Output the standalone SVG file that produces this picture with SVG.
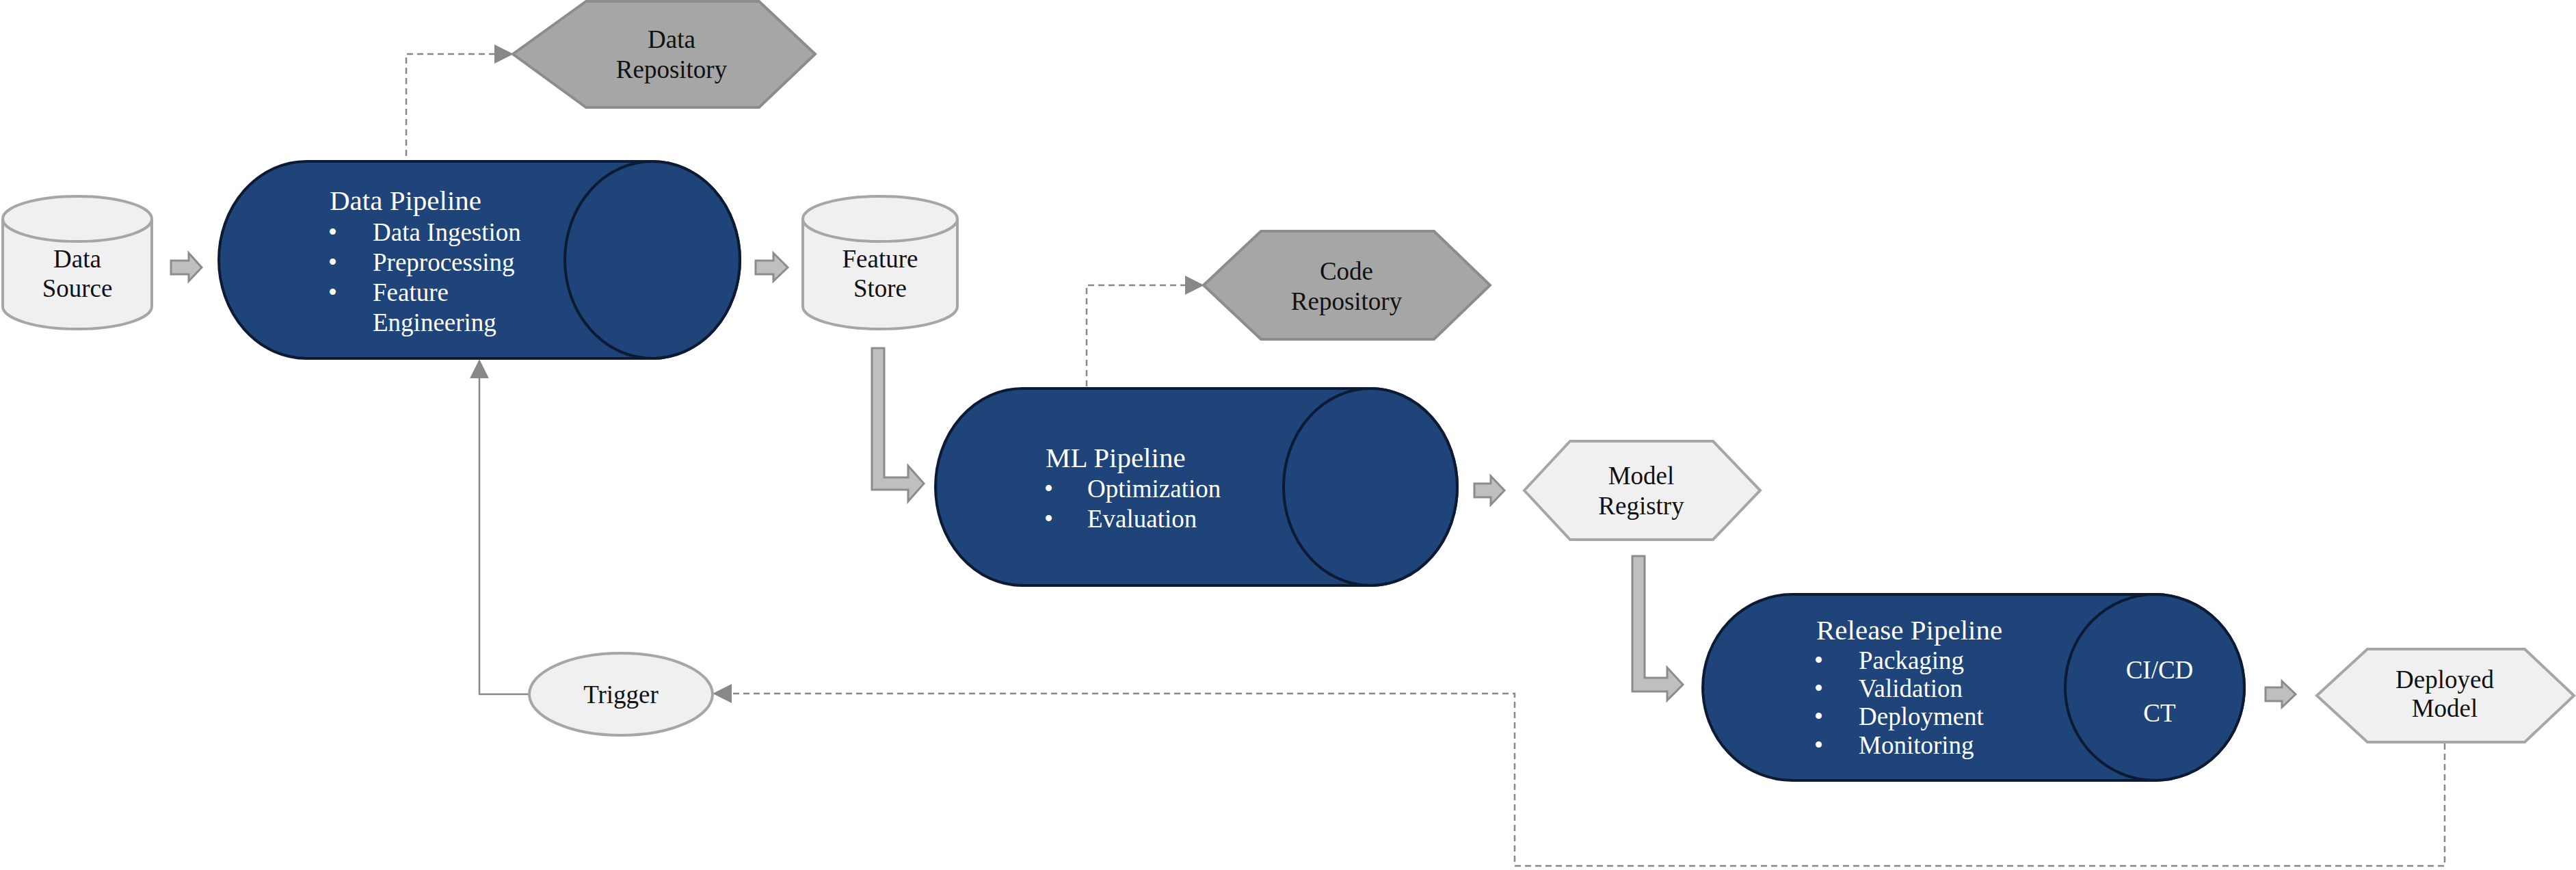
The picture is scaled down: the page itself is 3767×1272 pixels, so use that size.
<svg xmlns="http://www.w3.org/2000/svg" width="3767" height="1272" viewBox="0 0 3767 1272">
<style>
text{font-family:"Liberation Serif",serif;}
.pipe{fill:#1e4479;stroke:#0c1a33;stroke-width:4}
.wt{fill:#fff;font-size:37px}
.wh{fill:#fff;font-size:41px}
.bt{fill:#111;font-size:37px;text-anchor:middle}
.db{fill:#f0f0f0;stroke:#a6a6a6;stroke-width:4}
.hexd{fill:#a6a6a6;stroke:#8c8c8c;stroke-width:4}
.hexl{fill:#f0f0f0;stroke:#a6a6a6;stroke-width:4}
.ga{fill:#bfbfbf;stroke:#8c8c8c;stroke-width:3}
.dash{fill:none;stroke:#888;stroke-width:2.5;stroke-dasharray:9,6}
.solid{fill:none;stroke:#888;stroke-width:2.5}
</style>
<defs>
<marker id="ah" viewBox="0 0 10 10" refX="9" refY="5" markerWidth="10" markerHeight="10" markerUnits="userSpaceOnUse" orient="auto"><path d="M0,0L10,5L0,10z" fill="#888"/></marker>
<marker id="ah2" viewBox="0 0 10 10" refX="9" refY="5" markerWidth="28" markerHeight="28" markerUnits="userSpaceOnUse" orient="auto"><path d="M0,0L10,5L0,10z" fill="#888"/></marker>
</defs>

<g id="connectors">
<path class="dash" d="M594,228V79H748" marker-end="url(#ah2)"/>
<path class="dash" d="M1589,565V417H1758" marker-end="url(#ah2)"/>
<path class="dash" d="M3575,1087V1266H2215V1014H1045" marker-end="url(#ah2)"/>
<path class="solid" d="M774,1015H701V528" marker-end="url(#ah2)"/>
<path class="ga" d="M250,381H276V370L295,391L276,411V401H250Z"/>
<path class="ga" d="M1105,381H1131V370L1152,391L1131,411V401H1105Z"/>
<path class="ga" d="M2156,707H2180V696L2200,717L2180,738V727H2156Z"/>
<path class="ga" d="M3313,1005H3337V996L3357,1015L3337,1034V1025H3313Z"/>
<path class="ga" d="M1275,509H1293V698H1328V681L1351,707L1328,733V716H1275Z"/>
<path class="ga" d="M2387,813H2405V991H2438V976L2461,1001L2438,1024V1011H2387Z"/>
</g>

<g id="data-source">
<path class="db" d="M4,320V448A109,33 0 0 0 222,448V320"/>
<ellipse class="db" cx="113" cy="320" rx="109" ry="33"/>
<text class="bt" x="113" y="391">Data</text><text class="bt" x="113" y="434">Source</text>
</g>

<g id="data-pipeline">
<path class="pipe" d="M448,236H954A128,144 0 0 1 954,524H448A128,144 0 0 1 448,236Z"/>
<ellipse class="pipe" cx="954" cy="380" rx="128" ry="144"/>
<text class="wh" x="482" y="307">Data Pipeline</text>
<text class="wt" x="480" y="352">•</text><text class="wt" x="545" y="352">Data Ingestion</text>
<text class="wt" x="480" y="396">•</text><text class="wt" x="545" y="396">Preprocessing</text>
<text class="wt" x="480" y="440">•</text><text class="wt" x="545" y="440">Feature</text>
<text class="wt" x="545" y="484">Engineering</text>
</g>

<g id="data-repository">
<polygon class="hexd" points="750,79 857,2 1110,2 1192,79 1110,157 857,157"/>
<text class="bt" x="982" y="70">Data</text><text class="bt" x="982" y="114">Repository</text>
</g>

<g id="feature-store">
<path class="db" d="M1174,320V448A113,33 0 0 0 1400,448V320"/>
<ellipse class="db" cx="1287" cy="320" rx="113" ry="33"/>
<text class="bt" x="1287" y="391">Feature</text><text class="bt" x="1287" y="434">Store</text>
</g>

<g id="ml-pipeline">
<path class="pipe" d="M1495,568H2004A127,144 0 0 1 2004,856H1495A127,144 0 0 1 1495,568Z"/>
<ellipse class="pipe" cx="2004" cy="712" rx="127" ry="144"/>
<text class="wh" x="1529" y="683">ML Pipeline</text>
<text class="wt" x="1527" y="727">•</text><text class="wt" x="1590" y="727">Optimization</text>
<text class="wt" x="1527" y="771">•</text><text class="wt" x="1590" y="771">Evaluation</text>
</g>

<g id="code-repository">
<polygon class="hexd" points="1760,417 1844,338 2097,338 2179,417 2097,496 1844,496"/>
<text class="bt" x="1969" y="409">Code</text><text class="bt" x="1969" y="453">Repository</text>
</g>

<g id="model-registry">
<polygon class="hexl" points="2229,717 2296,645 2505,645 2574,717 2505,789 2296,789"/>
<text class="bt" x="2400" y="708">Model</text><text class="bt" x="2400" y="752">Registry</text>
</g>

<g id="release-pipeline">
<path class="pipe" d="M2621,869H3151A131,136 0 0 1 3151,1141H2621A131,136 0 0 1 2621,869Z"/>
<ellipse class="pipe" cx="3151" cy="1005" rx="131" ry="136"/>
<text class="wh" x="2656" y="935">Release Pipeline</text>
<text class="wt" x="2653" y="978">•</text><text class="wt" x="2718" y="978">Packaging</text>
<text class="wt" x="2653" y="1019">•</text><text class="wt" x="2718" y="1019">Validation</text>
<text class="wt" x="2653" y="1060">•</text><text class="wt" x="2718" y="1060">Deployment</text>
<text class="wt" x="2653" y="1102">•</text><text class="wt" x="2718" y="1102">Monitoring</text>
<text class="wt" x="3158" y="992" text-anchor="middle">CI/CD</text>
<text class="wt" x="3158" y="1055" text-anchor="middle">CT</text>
</g>

<g id="deployed-model">
<polygon class="hexl" points="3388,1017 3462,949 3692,949 3764,1017 3692,1085 3462,1085"/>
<text class="bt" x="3575" y="1006">Deployed</text><text class="bt" x="3575" y="1048">Model</text>
</g>

<g id="trigger">
<ellipse class="hexl" cx="908" cy="1015" rx="134" ry="60"/>
<text class="bt" x="908" y="1028">Trigger</text>
</g>
</svg>
